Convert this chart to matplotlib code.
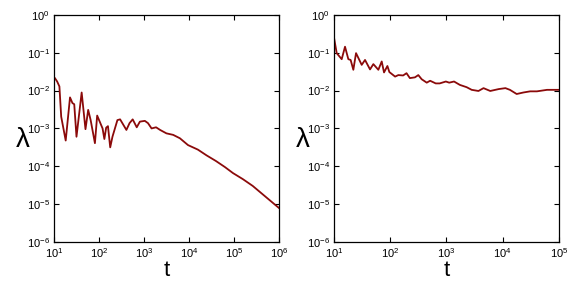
import numpy as np
import matplotlib
matplotlib.use("Agg")
import matplotlib.pyplot as plt
from matplotlib.ticker import LogLocator, NullLocator

plt.rcParams['font.family'] = ['Liberation Sans', 'DejaVu Sans']
plt.rcParams['mathtext.fontset'] = 'custom'
plt.rcParams['mathtext.rm'] = 'Liberation Sans'
plt.rcParams['mathtext.it'] = 'Liberation Sans'

# dados (log10 de t e de lambda)
logt_esq = [1.0, 1.02, 1.07, 1.12, 1.16, 1.26, 1.356, 1.41, 1.45, 1.50, 1.615, 1.70, 1.76,
            1.815, 1.91, 1.96, 2.02, 2.08, 2.12, 2.16, 2.20, 2.25, 2.30, 2.41, 2.47, 2.53,
            2.61, 2.68, 2.75, 2.84, 2.91, 3.02, 3.09, 3.17, 3.27, 3.36, 3.50, 3.65, 3.80,
            3.98, 4.20, 4.39, 4.60, 4.80, 4.98, 5.20, 5.42, 5.70, 6.0]
loglam_esq = [-1.65, -1.67, -1.76, -1.89, -2.69, -3.32, -2.18, -2.33, -2.36, -3.22, -2.05,
              -3.02, -2.51, -2.78, -3.39, -2.66, -2.83, -3.0, -3.28, -2.98, -2.94, -3.50,
              -3.22, -2.78, -2.76, -2.88, -3.04, -2.86, -2.76, -2.97, -2.82, -2.80, -2.86,
              -3.0, -2.97, -3.04, -3.13, -3.17, -3.26, -3.44, -3.56, -3.71, -3.86, -4.02,
              -4.18, -4.34, -4.52, -4.80, -5.10]

logt_dir = [1.0, 1.048, 1.137, 1.196, 1.255, 1.296, 1.344, 1.392, 1.493, 1.552, 1.641,
            1.70, 1.789, 1.849, 1.89, 1.95, 1.985, 2.087, 2.145, 2.23, 2.29, 2.35, 2.44,
            2.50, 2.56, 2.65, 2.71, 2.81, 2.88, 2.99, 3.05, 3.136, 3.24, 3.36, 3.45, 3.57,
            3.66, 3.78, 3.93, 4.05, 4.13, 4.25, 4.37, 4.49, 4.61, 4.79, 5.0]
loglam_dir = [-0.60, -1.01, -1.17, -0.84, -1.17, -1.19, -1.45, -1.01, -1.32, -1.19, -1.44,
              -1.30, -1.45, -1.23, -1.52, -1.35, -1.51, -1.63, -1.59, -1.60, -1.54, -1.67,
              -1.65, -1.59, -1.70, -1.79, -1.74, -1.81, -1.81, -1.76, -1.79, -1.76, -1.85,
              -1.91, -1.98, -2.01, -1.935, -2.01, -1.96, -1.935, -1.98, -2.09, -2.05, -2.02,
              -2.02, -1.98, -1.98]

paineis = [
    (logt_esq, loglam_esq, 1e6, [0.092, 0.157, 0.383, 0.791]),
    (logt_dir, loglam_dir, 1e5, [0.569, 0.157, 0.383, 0.791]),
]

fig = plt.figure(figsize=(5.87, 2.87), dpi=100)
for logt, loglam, tmax, pos in paineis:
    ax = fig.add_axes(pos)
    t = 10 ** np.array(logt)
    lam = 10 ** np.array(loglam)
    ax.plot(t, lam, color="#8b0a0a", lw=1.3)
    ax.set_xscale("log")
    ax.set_yscale("log")
    ax.set_xlim(10, tmax)
    ax.set_ylim(1e-6, 1)
    ax.xaxis.set_major_locator(LogLocator(base=10, numticks=10))
    ax.yaxis.set_major_locator(LogLocator(base=10, numticks=10))
    ax.xaxis.set_minor_locator(NullLocator())
    ax.yaxis.set_minor_locator(NullLocator())
    ax.tick_params(direction="in", length=3.5, width=0.8, top=True, right=True,
                   labelsize=8, pad=3)
    for s in ax.spines.values():
        s.set_linewidth(0.9)
    ax.set_xlabel("t", fontsize=16, labelpad=0)
    ax.set_ylabel("λ", fontsize=20, rotation=0, va="center", ha="center")
    ax.yaxis.set_label_coords(-0.14, 0.45)

fig.savefig("out.png", dpi=100)
